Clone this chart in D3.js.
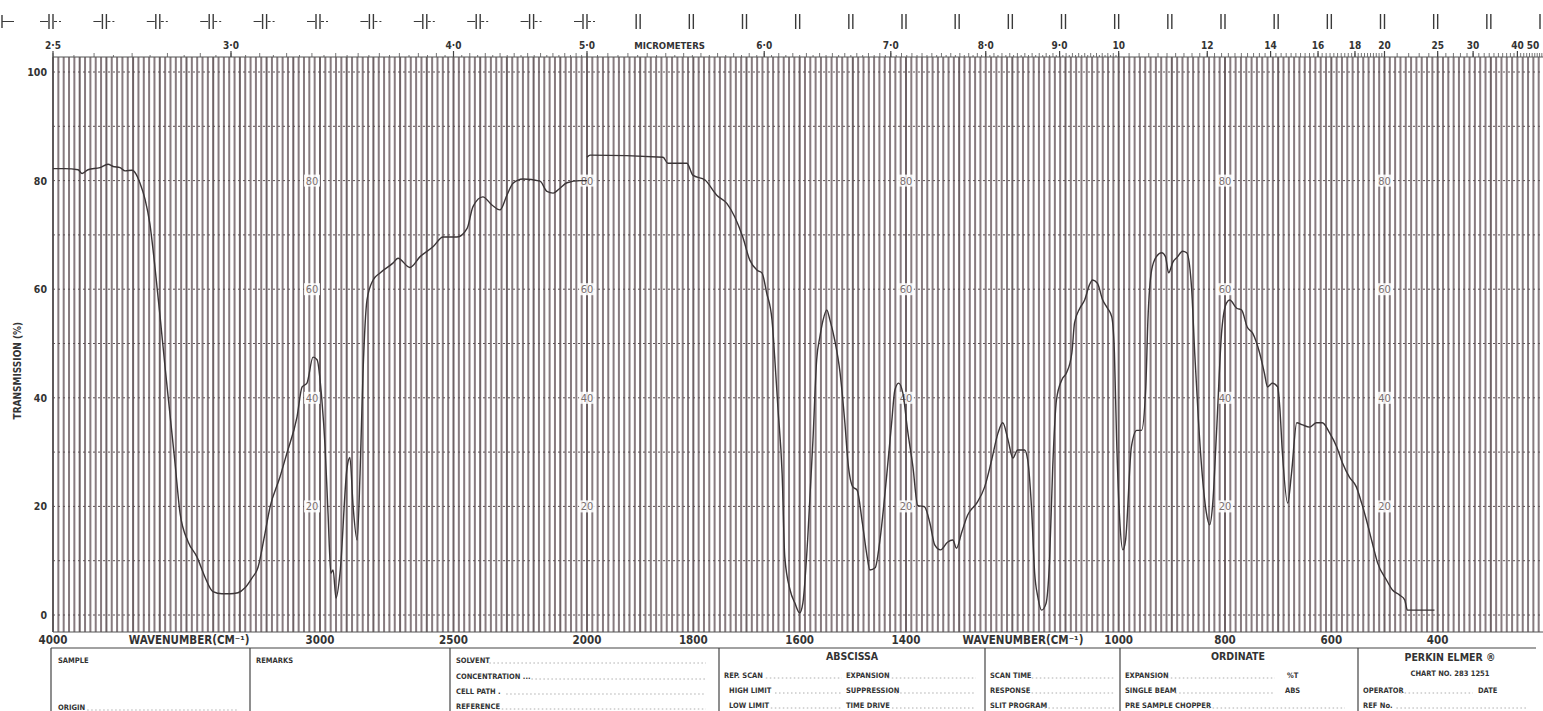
<!DOCTYPE html>
<html>
<head>
<meta charset="utf-8">
<script src="https://cdn.jsdelivr.net/npm/d3@7"></script>
<style>
  html, body { margin: 0; padding: 0; background: #fff; }
  svg { display: block; }
  text { font-family: "Liberation Sans Narrow", "DejaVu Sans Condensed", "Liberation Sans", sans-serif; fill: #333; }
</style>
</head>
<body>
<svg width="1543" height="711"></svg>
<script>
// trace, 4000-2000 cm-1 half of the chart
var wnHigh = [4000, 3955, 3906, 3891, 3869, 3824, 3794, 3775, 3749, 3730, 3704, 3689, 3674, 3655, 3637,
  3618, 3599, 3581, 3562, 3543, 3524, 3494, 3461, 3431, 3401, 3367, 3337, 3307, 3281, 3255, 3232, 3210,
  3187, 3150, 3124, 3086, 3067, 3049, 3026, 3011, 2993, 2981, 2970, 2959, 2951, 2940, 2925, 2899, 2888,
  2876, 2861, 2850, 2839, 2824, 2801, 2775, 2727, 2708, 2663, 2625, 2577, 2539, 2487, 2449, 2427, 2390,
  2356, 2326, 2300, 2277, 2240, 2176, 2150, 2127, 2101, 2075, 2026, 2000];
var tHigh = [82.2, 82.2, 82.0, 81.3, 82.0, 82.4, 83.0, 82.6, 82.4, 81.8, 81.9, 81.2, 79.5, 76.5, 72,
  64, 55, 46, 37, 28, 18.7, 13.5, 10.7, 7.0, 4.3, 3.9, 3.9, 4.1, 5.0, 6.8, 8.8, 14,
  19.9, 25.4, 29.8, 36.5, 42, 42.7, 47.5, 47, 39.6, 31, 18.8, 7.7, 8.3, 3.1, 7.7, 27, 29,
  20, 13.8, 26, 44.5, 58, 61.7, 63, 64.8, 65.7, 64, 66, 67.8, 69.6, 69.6, 71.2, 75.2, 77,
  75.5, 74.6, 77.3, 79.5, 80.3, 79.9, 78, 77.7, 78.6, 79.6, 80, 80];

// trace, 2000-400 cm-1 half (recorder steps at the grating change)
var wnLow = [2000, 1994, 1857, 1848, 1812, 1801, 1778, 1756, 1737, 1722, 1707, 1694, 1680, 1671, 1662,
  1652, 1647, 1641, 1633, 1628, 1618, 1609, 1600, 1594, 1585, 1575, 1568, 1562, 1556, 1549,
  1543, 1534, 1524, 1515, 1509, 1500, 1492, 1482, 1473, 1468, 1458, 1449, 1436, 1427, 1421,
  1414, 1406, 1397, 1387, 1378, 1365, 1355, 1346, 1335, 1322, 1312, 1305, 1295, 1284, 1267,
  1252, 1239, 1227, 1218, 1208, 1199, 1190, 1177, 1171, 1164, 1158, 1152, 1145, 1137, 1130,
  1124, 1117, 1107, 1098, 1088, 1083, 1073, 1064, 1055, 1049, 1040, 1030, 1021, 1013, 1008,
  1004, 998, 992, 987, 976, 966, 957, 949, 945, 938, 929, 919, 912, 906, 898,
  889, 880, 872, 863, 857, 850, 842, 835, 829, 823, 816, 806, 797, 791, 778,
  769, 758, 748, 735, 726, 720, 711, 701, 697, 692, 682, 675, 665, 654, 641,
  628, 617, 603, 590, 579, 566, 553, 543, 534, 523, 513, 496, 485, 472, 462, 457, 406];
var tLow = [84.3, 84.7, 84.3, 83.2, 83.2, 81, 80.1, 77.3, 75.8, 73.3, 69.6, 65.4, 63.5, 63, 59.3,
  54.3, 47.5, 38.3, 26, 10.7, 4.6, 2.2, 0.4, 2.2, 13.8, 32.2, 47, 51.2, 54.3, 56.2,
  54.3, 50.6, 44.6, 35.4, 28, 23.6, 23, 16.9, 10.7, 8.3, 8.7, 13.8, 26, 35.4, 41.4,
  42.7, 40.9, 34, 27.3, 20.2, 19.9, 16.9, 12.9, 12, 13.4, 13.8, 12.3, 15.3, 18.4, 20.6,
  23.6, 28.5, 33.5, 35.4, 32.2, 28.9, 30.4, 30.4, 28.5, 19.9, 7.7, 3.3, 0.9, 2.0, 10,
  27.3, 39.6, 43.3, 44.6, 48.3, 53.8, 56.5, 58, 60.8, 61.7, 61.1, 58, 56.5, 54.9, 48.3,
  32.8, 17.5, 12, 13.8, 31, 34, 34, 42, 54.3, 63.5, 66, 66.7, 66, 63, 65,
  66, 67, 66.7, 60.4, 48.3, 35.9, 24.9, 18.8, 16.6, 20.6, 33.5, 52.5, 57.5, 58, 56.5,
  56.2, 53, 51.9, 48.3, 44.6, 42, 42.7, 42, 38.3, 29.8, 20.6, 26, 35.4, 35, 34.6,
  35.4, 35.4, 33.5, 31, 28, 25.4, 23.6, 20.6, 17.5, 13.3, 9.6, 6.4, 4.6, 3.7, 2.8, 0.9, 0.9];

// axis labels
var wnTicks = [4000, 3000, 2500, 2000, 1800, 1600, 1400, 1000, 800, 600, 400];
var tTicks = [0, 20, 40, 60, 80, 100];
var umTicks = [2.5, 3, 4, 5, 6, 7, 8, 9, 10, 12, 14, 16, 18, 20, 25, 30, 40, 50];
var umNames = ["2·5", "3·0", "4·0", "5·0", "6·0", "7·0", "8·0", "9·0", "10", "12", "14", "16", "18", "20", "25", "30", "40", "50"];
// printed value columns inside the paper
var innerCols = [3030, 2000, 1400, 800, 500];
var innerVals = [80, 60, 40, 20];

var svg = d3.select("svg");
var plotTop = 57, plotBottom = 632;

// chart paper: 4000-2000 at half the scale of 2000-200
var x = d3.scaleLinear().domain([4000, 2000, 200]).range([53, 587, 1544]);
var y = d3.scaleLinear().domain([0, 100]).range([615, 72]);

// ---- grid ----
var grid = svg.append("g");
var vlines = d3.range(4000, 2000, -20).concat(d3.range(2000, 199, -10));
grid.selectAll(".v")
  .data(vlines)
  .enter().append("line")
    .attr("x1", function(d) { return x(d); })
    .attr("x2", function(d) { return x(d); })
    .attr("y1", plotTop)
    .attr("y2", plotBottom)
    .attr("stroke", function(d) { return d % 100 === 0 ? "#6e6265" : "#877b7f"; })
    .attr("stroke-width", 2);

grid.selectAll(".h")
  .data(d3.range(0, 101, 10))
  .enter().append("line")
    .attr("x1", x(4000))
    .attr("x2", 1543)
    .attr("y1", function(d) { return y(d); })
    .attr("y2", function(d) { return y(d); })
    .attr("stroke", "#5e5356")
    .attr("stroke-width", 1)
    .attr("stroke-dasharray", "2,3");

// paper border
svg.append("line").attr("x1", 53).attr("x2", 1543).attr("y1", plotTop).attr("y2", plotTop)
  .attr("stroke", "#555").attr("stroke-width", 1.2);
svg.append("line").attr("x1", 53).attr("x2", 1543).attr("y1", plotBottom).attr("y2", plotBottom)
  .attr("stroke", "#555").attr("stroke-width", 1.2);
svg.append("line").attr("x1", 53).attr("x2", 53).attr("y1", plotTop).attr("y2", plotBottom)
  .attr("stroke", "#555").attr("stroke-width", 1.2);

// ---- micrometer scale along the top ----
var um = function(v) { return x(10000 / v); };
var umSmall = d3.range(2.5, 10.001, 0.05).concat(d3.range(10, 20.001, 0.2), d3.range(20, 50.001, 1));
svg.append("g").selectAll("line")
  .data(umSmall)
  .enter().append("line")
    .attr("x1", function(d) { return um(d); })
    .attr("x2", function(d) { return um(d); })
    .attr("y1", plotTop)
    .attr("y2", function(d) {
      var r = Math.round(d * 100) % 10;
      return plotTop - (r === 0 ? 4 : 2);
    })
    .attr("stroke", "#555")
    .attr("stroke-width", 0.8);

svg.append("g").selectAll("line")
  .data(umTicks)
  .enter().append("line")
    .attr("x1", function(d) { return um(d); })
    .attr("x2", function(d) { return um(d); })
    .attr("y1", plotTop)
    .attr("y2", plotTop - 6)
    .attr("stroke", "#444")
    .attr("stroke-width", 1.2);

svg.append("g").selectAll("text")
  .data(umTicks)
  .enter().append("text")
    .attr("x", function(d) { return Math.min(um(d), 1533); })
    .attr("y", 49)
    .attr("text-anchor", "middle")
    .attr("font-size", 10)
    .attr("font-weight", "bold")
    .text(function(d, i) { return umNames[i]; });

svg.append("text")
  .attr("x", (um(5) + um(6)) / 2 - 6)
  .attr("y", 49)
  .attr("text-anchor", "middle")
  .attr("font-size", 9.5)
  .attr("font-weight", "bold")
  .text("MICROMETERS");

// registration marks of the chart paper
var regs = d3.range(4000, 1999, -200).concat(d3.range(1900, 199, -100));
var reg = svg.append("g").attr("stroke", "#3a3a3a").attr("stroke-width", 1.4);
regs.forEach(function(d) {
  var cx = x(d) - 2;
  reg.append("line").attr("x1", cx - 2).attr("x2", cx - 2).attr("y1", 14).attr("y2", 29);
  reg.append("line").attr("x1", cx + 2).attr("x2", cx + 2).attr("y1", 14).attr("y2", 29);
  if (d >= 2000) {
    reg.append("line").attr("x1", cx - 11).attr("x2", cx - 3).attr("y1", 21.5).attr("y2", 21.5)
      .attr("stroke-width", 1);
    reg.append("line").attr("x1", cx + 3).attr("x2", cx + 10).attr("y1", 21.5).attr("y2", 21.5)
      .attr("stroke-width", 1).attr("stroke-dasharray", "3,2");
  }
});
reg.append("line").attr("x1", 2).attr("x2", 2).attr("y1", 15).attr("y2", 28);
reg.append("line").attr("x1", 2).attr("x2", 14).attr("y1", 21.5).attr("y2", 21.5).attr("stroke-width", 1);

// ---- printed values inside the paper ----
var inner = svg.append("g");
innerCols.forEach(function(c) {
  innerVals.forEach(function(v) {
    inner.append("rect")
      .attr("x", x(c) - 8).attr("y", y(v) - 6)
      .attr("width", 16).attr("height", 12)
      .attr("fill", "#fff").attr("opacity", 0.85);
    inner.append("text")
      .attr("x", x(c))
      .attr("y", y(v) + 4)
      .attr("text-anchor", "middle")
      .attr("font-size", 11)
      .style("fill", "#7a7070")
      .text(v);
  });
});

// ---- left axis ----
svg.append("g").selectAll("text")
  .data(tTicks)
  .enter().append("text")
    .attr("x", 47)
    .attr("y", function(d) { return y(d) + 4; })
    .attr("text-anchor", "end")
    .attr("font-size", 10.5)
    .attr("font-weight", "bold")
    .text(function(d) { return d; });

svg.append("text")
  .attr("transform", "translate(21," + y(45) + ") rotate(-90)")
  .attr("text-anchor", "middle")
  .attr("font-size", 10)
  .attr("font-weight", "bold")
  .text("TRANSMISSION (%)");

// ---- bottom axis ----
svg.append("g").selectAll("text")
  .data(wnTicks)
  .enter().append("text")
    .attr("x", function(d) { return x(d); })
    .attr("y", 644)
    .attr("text-anchor", "middle")
    .attr("font-size", 11.5)
    .attr("font-weight", "bold")
    .text(function(d) { return d; });

[3490, 1180].forEach(function(c) {
  svg.append("text")
    .attr("x", x(c))
    .attr("y", 644)
    .attr("text-anchor", "middle")
    .attr("font-size", 11.5)
    .attr("font-weight", "bold")
    .text("WAVENUMBER(CM⁻¹)");
});

// ---- spectrum ----
var line = d3.line()
  .x(function(d) { return x(d[0]); })
  .y(function(d) { return y(d[1]); })
  .curve(d3.curveMonotoneX);

[[wnHigh, tHigh], [wnLow, tLow]].forEach(function(s) {
  svg.append("path")
    .datum(s[0].map(function(w, i) { return [w, s[1][i]]; }))
    .attr("fill", "none")
    .attr("stroke", "#3b3537")
    .attr("stroke-width", 1.4)
    .attr("stroke-linejoin", "round")
    .attr("d", line);
});

// ---- record form below the chart ----
var formTop = 648;
var cols = [51, 250, 450, 719, 985, 1120, 1358];
var form = svg.append("g");
form.append("line").attr("x1", cols[0]).attr("x2", 1536).attr("y1", formTop).attr("y2", formTop)
  .attr("stroke", "#444").attr("stroke-width", 1.2);
cols.forEach(function(c) {
  form.append("line").attr("x1", c).attr("x2", c).attr("y1", formTop).attr("y2", 711)
    .attr("stroke", "#444").attr("stroke-width", 1.2);
});

function field(txt, fx, fy, dots) {
  form.append("text").attr("x", fx).attr("y", fy)
    .attr("font-size", 7.5).attr("font-weight", "bold").text(txt);
  if (dots) {
    form.append("line").attr("x1", fx + txt.length * 4.2 + 4).attr("x2", fx + dots)
      .attr("y1", fy).attr("y2", fy)
      .attr("stroke", "#999").attr("stroke-width", 0.8).attr("stroke-dasharray", "1.5,2.5");
  }
}
function title(txt, tx, ty, size) {
  form.append("text").attr("x", tx).attr("y", ty).attr("text-anchor", "middle")
    .attr("font-size", size).attr("font-weight", "bold").text(txt);
}

field("SAMPLE", 58, 663);
field("ORIGIN", 58, 710, 180);
field("REMARKS", 256, 663);
field("SOLVENT", 456, 663, 250);
field("CONCENTRATION ...", 456, 679, 250);
field("CELL PATH .", 456, 694, 250);
field("REFERENCE", 456, 709, 250);

title("ABSCISSA", 852, 660, 10.5);
field("REP. SCAN", 724, 678, 118);
field("EXPANSION", 846, 678, 130);
field("HIGH LIMIT", 729, 693, 113);
field("SUPPRESSION", 846, 693, 130);
field("LOW LIMIT", 729, 708, 113);
field("TIME DRIVE", 846, 708, 130);

field("SCAN TIME", 990, 678, 125);
field("RESPONSE", 990, 693, 125);
field("SLIT PROGRAM", 990, 708, 125);

title("ORDINATE", 1238, 660, 10.5);
field("EXPANSION", 1125, 678, 150);
field("%T", 1287, 678);
field("SINGLE BEAM", 1125, 693, 150);
field("ABS", 1285, 693);
field("PRE SAMPLE CHOPPER", 1125, 708, 220);

title("PERKIN ELMER ®", 1450, 661, 10.5);
title("CHART NO. 283 1251", 1450, 676, 7.5);
field("OPERATOR", 1363, 693, 110);
field("DATE", 1478, 693);
field("REF No.", 1363, 708, 165);
</script>
</body>
</html>
